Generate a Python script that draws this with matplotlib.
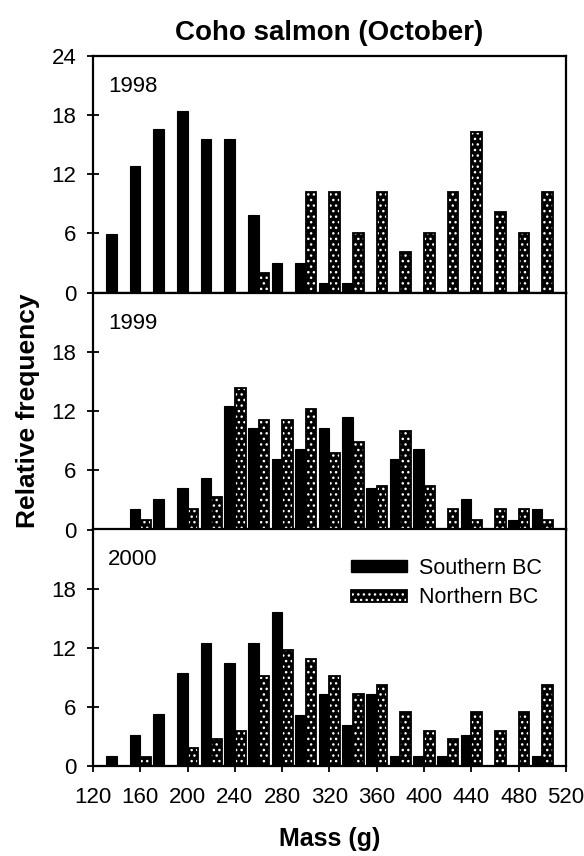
import numpy as np
import matplotlib.pyplot as plt
from matplotlib.patches import Patch

plt.rcParams['font.family'] = ['Liberation Sans', 'DejaVu Sans']

# srodki klas masy (g)
mass = [140, 160, 180, 200, 220, 240, 260, 280, 300, 320,
        340, 360, 380, 400, 420, 440, 460, 480, 500]

years = ['1998', '1999', '2000']

south_1998 = [5.9, 12.8, 16.6, 18.4, 15.6, 15.6, 7.9, 3.0, 3.0, 1.0,
              1.0, 0, 0, 0, 0, 0, 0, 0, 0]
north_1998 = [0, 0, 0, 0, 0, 0, 2.0, 0, 10.2, 10.2,
              6.1, 10.2, 4.1, 6.1, 10.2, 16.3, 8.2, 6.1, 10.2]

south_1999 = [0, 2.1, 3.1, 4.2, 5.2, 12.5, 10.3, 7.2, 8.2, 10.3,
              11.4, 4.2, 7.2, 8.2, 0, 3.1, 0, 1.0, 2.1]
north_1999 = [0, 1.0, 0, 2.1, 3.3, 14.4, 11.1, 11.1, 12.2, 7.8,
              8.9, 4.4, 10.0, 4.4, 2.1, 1.0, 2.1, 2.1, 1.0]

south_2000 = [1.0, 3.1, 5.3, 9.4, 12.5, 10.4, 12.5, 15.6, 5.2, 7.3,
              4.2, 7.3, 1.0, 1.0, 1.0, 3.1, 0, 0, 1.0]
north_2000 = [0, 0.9, 0, 1.8, 2.7, 3.6, 9.1, 11.8, 10.9, 9.1,
              7.3, 8.2, 5.5, 3.6, 2.7, 5.5, 3.6, 5.5, 8.2]

south = [south_1998, south_1999, south_2000]
north = [north_1998, north_1999, north_2000]

x_ticks = list(range(120, 521, 40))
y_ticks_top = [0, 6, 12, 18, 24]
y_ticks = [0, 6, 12, 18]

fig = plt.figure(figsize=(5.84, 8.56), dpi=100)
left, width = 0.1592, 0.8099
h = 0.2765
bottoms = [0.6581, 0.3814, 0.1051]

x = np.array(mass, dtype=float)
w = 9.0
axes = []
for i in range(3):
    ax = fig.add_axes([left, bottoms[i], width, h])
    axes.append(ax)
    ax.bar(x - w / 2, south[i], width=w, color='black', edgecolor='black',
           linewidth=0.8)
    ax.bar(x + w / 2, north[i], width=w, color='black', edgecolor='white',
           hatch='...', linewidth=0)
    ax.bar(x + w / 2, north[i], width=w, fill=False, edgecolor='black',
           linewidth=1.3)
    ax.set_xlim(120, 520)
    ax.set_ylim(0, 24)
    ax.set_xticks(x_ticks)
    ax.set_yticks(y_ticks_top if i == 0 else y_ticks)
    ax.tick_params(direction='inout', length=8, width=1.3, labelsize=16)
    ax.tick_params(axis='x', pad=11)
    ax.tick_params(axis='y', pad=8)
    if i < 2:
        ax.tick_params(axis='x', labelbottom=False)
    for s in ax.spines.values():
        s.set_linewidth(1.6)
    ax.text(0.032, 0.915, years[i], transform=ax.transAxes, fontsize=16,
            ha='left', va='top')

# legenda
h_s = Patch(facecolor='black', edgecolor='black')
h_n1 = Patch(facecolor='black', edgecolor='white', hatch='...', linewidth=0)
h_n2 = Patch(fill=False, edgecolor='black', linewidth=1.3)
axes[2].legend([h_s, (h_n1, h_n2)], ['Southern BC', 'Northern BC'],
               loc='upper right', bbox_to_anchor=(0.972, 0.925), frameon=False,
               fontsize=15.5, handlelength=2.6, handleheight=0.45,
               handletextpad=0.55, labelspacing=0.4, borderpad=0)

fig.text(0.564, 0.962, 'Coho salmon (October)', ha='center', va='center',
         fontsize=20, fontweight='bold')
fig.text(0.564, 0.012, 'Mass (g)', ha='center', va='baseline',
         fontsize=18, fontweight='bold')
fig.text(0.048, 0.52, 'Relative frequency', ha='center', va='center',
         rotation=90, fontsize=19, fontweight='bold')

plt.savefig('out.png', dpi=100)
